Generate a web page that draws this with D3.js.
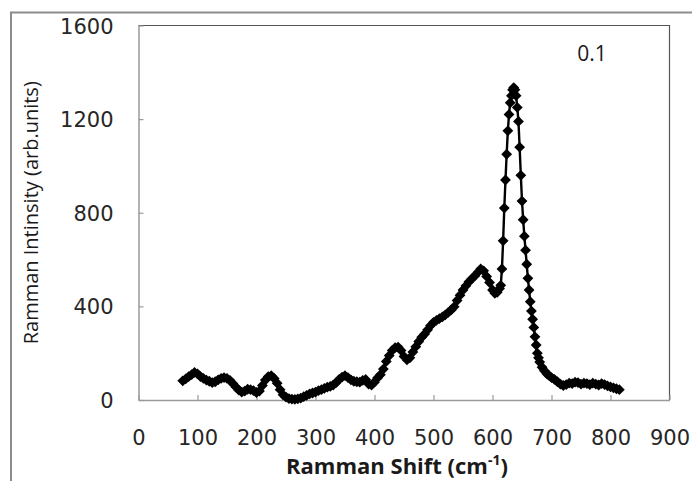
<!DOCTYPE html>
<html>
<head>
<meta charset="utf-8">
<script src="https://cdn.jsdelivr.net/npm/d3@7"></script>
<style>
	html, body { margin: 0; padding: 0; background: #fff; }
	svg { display: block; font-family: 'Open Sans', sans-serif; }
</style>
</head>
<body>
<svg></svg>
<script>
'use strict'

// Raman shift (cm-1) and intensity (arb. units)
let shift = [
	75, 80, 85, 90, 95, 100, 105, 110, 115, 120, 125, 130, 135, 140, 145, 150,
	155, 160, 165, 170, 175, 180, 185, 190, 195, 200, 205, 210, 215, 220, 225, 230,
	235, 240, 245, 250, 255, 260, 265, 270, 275, 280, 285, 290, 295, 300, 305, 310,
	315, 320, 325, 330, 335, 340, 345, 350, 355, 360, 365, 370, 375, 380, 385, 390,
	395, 400, 405, 410, 415, 420, 425, 430, 435, 440, 445, 450, 455, 460, 465, 470,
	475, 480, 485, 490, 495, 500, 505, 510, 515, 520, 525, 530, 535, 540, 545, 550,
	555, 560, 565, 570, 575, 580, 585, 590, 595, 600, 604, 608, 612, 614, 616, 618,
	620, 622, 624, 626, 628, 630, 632, 634, 636, 638, 640, 642, 644, 646, 648, 650,
	652, 654, 656, 658, 660, 662, 664, 666, 668, 670, 672, 674, 676, 678, 680, 684,
	688, 692, 696, 700, 705, 710, 715, 720, 725, 730, 735, 740, 745, 750, 755, 760,
	765, 770, 775, 780, 785, 790, 795, 800, 805, 810, 815]
let intensity = [
	82, 90, 100, 108, 118, 112, 100, 92, 85, 80, 74, 78, 86, 92, 96, 92,
	84, 70, 56, 42, 34, 38, 46, 44, 40, 32, 38, 62, 85, 100, 104, 92,
	72, 44, 22, 12, 6, 4, 3, 5, 8, 14, 20, 26, 30, 34, 40, 44,
	50, 55, 58, 64, 74, 88, 98, 104, 96, 86, 80, 78, 76, 84, 88, 68,
	64, 76, 94, 108, 132, 165, 190, 212, 224, 226, 212, 186, 172, 180, 205, 228,
	250, 268, 282, 300, 318, 332, 340, 348, 355, 364, 374, 385, 398, 425, 448, 470,
	488, 505, 518, 530, 545, 560, 552, 528, 502, 470, 456, 460, 476, 490, 560, 680,
	820, 940, 1050, 1150, 1220, 1270, 1300, 1325, 1335, 1325, 1300, 1250, 1190, 1080, 960, 850,
	770, 700, 640, 580, 520, 470, 420, 380, 345, 310, 270, 235, 200, 180, 162, 140,
	125, 112, 104, 96, 88, 78, 68, 62, 66, 72, 70, 76, 74, 68, 72, 70,
	66, 72, 68, 64, 70, 66, 60, 56, 52, 48, 44]

let x_ticks = [0, 100, 200, 300, 400, 500, 600, 700, 800, 900],
	y_ticks = [0, 400, 800, 1200, 1600],
	y_title = 'Ramman Intinsity (arb.units)',
	x_title = 'Ramman Shift (cm', x_title_sup = '-1',
	series_label = '0.1'

let data = d3.zip(shift, intensity).map(([s, v]) => ({s: s, v: v}))

let W = 692, H = 481,
	plot = {left: 138.5, right: 669.5, top: 25.5, bottom: 400},
	x = d3.scaleLinear().domain([0, 900]).range([plot.left, plot.right]),
	y = d3.scaleLinear().domain([0, 1600]).range([plot.bottom, plot.top]),
	tick_font = 'DejaVu Sans'

let svg = d3.select('svg').attr('width', W).attr('height', H)

// outer chart frame (cut off by the picture on right/bottom)
svg.append('path')
	.attr('d', `M11,${H + 5}V12.5H${W + 5}`)
	.attr('fill', 'none').attr('stroke', '#8c8c8c').attr('stroke-width', 2)

// plot area border: dark top/right, grey axes left/bottom
svg.append('path')
	.attr('d', `M${plot.left},${plot.top}H${plot.right}V${plot.bottom}`)
	.attr('fill', 'none').attr('stroke', '#555').attr('stroke-width', 1.2)

svg.append('g')
	.attr('transform', `translate(0 ${plot.bottom})`)
	.call(d3.axisBottom(x).tickValues(x_ticks).tickFormat(d3.format('d'))
		.tickSize(-5).tickSizeOuter(0))
	.call(s => {
		s.select('.domain').attr('stroke', '#9a9a9a').attr('stroke-width', 1.5)
		s.selectAll('.tick line').attr('stroke', '#9a9a9a').attr('stroke-width', 1.2)
		s.selectAll('.tick text').attr('y', 44.5).attr('dy', null)
			.attr('fill', '#262626').attr('font-size', 21).attr('font-family', tick_font) })

svg.append('g')
	.attr('transform', `translate(${plot.left} 0)`)
	.call(d3.axisLeft(y).tickValues(y_ticks).tickFormat(d3.format('d'))
		.tickSize(-5).tickSizeOuter(0))
	.call(s => {
		s.select('.domain').attr('stroke', '#9a9a9a').attr('stroke-width', 1.5)
		s.selectAll('.tick line').attr('stroke', '#9a9a9a').attr('stroke-width', 1.2)
		s.selectAll('.tick text').attr('x', -25).attr('dy', '0.36em')
			.attr('fill', '#262626').attr('font-size', 21).attr('font-family', tick_font) })

svg.append('text')
	.attr('transform', `translate(38 ${(plot.top + plot.bottom) / 2}) rotate(-90)`)
	.attr('text-anchor', 'middle').attr('font-size', 20).attr('fill', '#1a1a1a')
	.text(y_title)

svg.append('text')
	.attr('x', 397).attr('y', 474)
	.attr('text-anchor', 'middle').attr('font-size', 22).attr('font-weight', 'bold')
	.attr('fill', '#1a1a1a')
	.call(t => {
		t.append('tspan').text(x_title)
		t.append('tspan').attr('font-size', 14).attr('dy', -9).text(x_title_sup)
		t.append('tspan').attr('dy', 9).text(')') })

svg.append('text')
	.attr('x', 592).attr('y', 61).attr('text-anchor', 'middle')
	.attr('font-size', 21).attr('fill', '#1a1a1a').text(series_label)

// series: connecting line plus diamond markers
svg.append('path').datum(data)
	.attr('fill', 'none').attr('stroke', '#000').attr('stroke-width', 2.4)
	.attr('stroke-linejoin', 'round')
	.attr('d', d3.line().x(d => x(d.s)).y(d => y(d.v)))

let r = 5.4
svg.append('g').selectAll('path').data(data).join('path')
	.attr('transform', d => `translate(${x(d.s)} ${y(d.v)})`)
	.attr('d', `M0,${-r}L${r},0L0,${r}L${-r},0Z`)
	.attr('fill', '#000')
</script>
</body>
</html>
